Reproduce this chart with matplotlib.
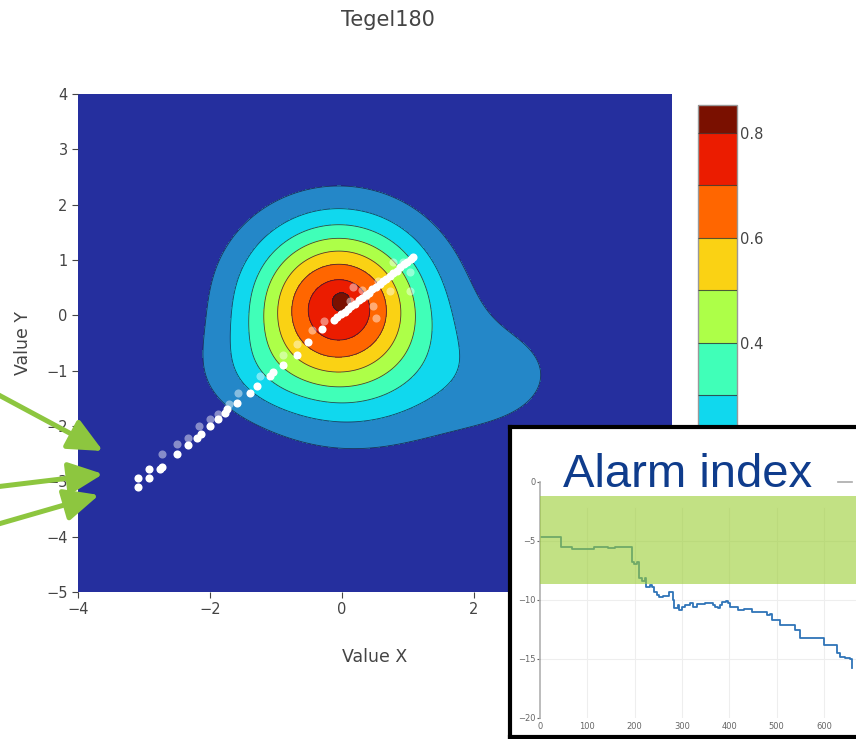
import numpy as np
import matplotlib
matplotlib.use('Agg')
import matplotlib.pyplot as plt
from matplotlib.colors import ListedColormap, BoundaryNorm
from matplotlib.patches import FancyArrowPatch

# density bumps for the contour surface: centre, spread, height
bump_cx = [-0.05, 0.4, 2.4, -1.4, 0.0, 0.0]
bump_cy = [0.15, -1.6, -1.05, -1.05, 0.28, 0.5]
bump_sx = [0.95, 1.3, 0.95, 0.7, 0.1, 1.5]
bump_sy = [1.07, 0.85, 0.85, 0.6, 0.12, 1.2]
bump_amp = [0.77, 0.09, 0.11, 0.07, 0.08, 0.025]
peak_density = 0.853

levels = [0.0, 0.1, 0.2, 0.3, 0.4, 0.5, 0.6, 0.7, 0.8, peak_density]
level_colors = ['#252f9e', '#2487c8', '#10d8ee', '#40ffb8', '#adff48',
                '#fad214', '#ff6600', '#eb1c00', '#7a1000']

# measured points
pts_x = [-3.09, -3.09, -2.93, -2.93, -2.76, -2.72, -2.50, -2.34, -2.19, -2.14,
         -2.00, -1.88, -1.78, -1.74, -1.59, -1.39, -1.29, -1.09, -1.04, -0.89,
         -0.68, -0.51, -0.31, -0.12, -0.07, -0.02, 0.04, 0.09, 0.14, 0.20,
         0.25, 0.30, 0.36, 0.41, 0.46, 0.52, 0.57, 0.62, 0.67, 0.73,
         0.78, 0.83, 0.88, 0.94, 0.99, 1.04, 1.08]
pts_y = [-3.10, -2.94, -2.94, -2.78, -2.77, -2.74, -2.50, -2.35, -2.21, -2.15,
         -2.00, -1.88, -1.76, -1.70, -1.58, -1.40, -1.28, -1.09, -1.03, -0.89,
         -0.71, -0.49, -0.25, -0.08, -0.03, 0.02, 0.06, 0.12, 0.16, 0.21,
         0.27, 0.31, 0.36, 0.41, 0.47, 0.51, 0.56, 0.62, 0.66, 0.71,
         0.77, 0.81, 0.87, 0.92, 0.97, 1.01, 1.06]
faint_x = [-2.73, -2.50, -2.34, -2.16, -2.00, -1.88, -1.71, -1.57, -1.25, -0.89,
           -0.68, -0.46, -0.28, 0.12, 0.17, 0.30, 0.37, 0.47, 0.52, 0.55,
           0.72, 0.77, 0.93, 1.03, 1.03]
faint_y = [-2.50, -2.33, -2.21, -2.00, -1.88, -1.78, -1.60, -1.40, -1.09, -0.71,
           -0.52, -0.27, -0.10, 0.26, 0.51, 0.45, 0.35, 0.17, -0.04, 0.62,
           0.44, 0.96, 0.96, 0.44, 0.78]

# alarm index trace (step values)
alarm_x = [0, 44, 68, 115, 143, 159, 194, 199, 206, 210,
           216, 221, 224, 233, 237, 240, 247, 252, 259, 273,
           280, 284, 291, 294, 301, 306, 317, 323, 331, 349,
           366, 370, 377, 380, 384, 394, 398, 401, 416, 419,
           430, 447, 479, 486, 490, 507, 539, 549, 599, 627,
           634, 645, 655, 659]
alarm_y = [-4.66, -5.51, -5.73, -5.51, -5.65, -5.51, -6.78, -6.97, -6.78, -8.19,
           -8.39, -8.19, -8.90, -8.75, -8.90, -9.32, -9.60, -9.74, -9.69, -9.32,
           -10.03, -10.73, -10.45, -10.87, -10.60, -10.45, -10.31, -10.59, -10.39, -10.31,
           -10.45, -10.59, -10.73, -10.45, -10.17, -10.08, -10.31, -10.59, -10.65, -10.87,
           -10.82, -11.01, -11.30, -11.21, -11.72, -12.14, -12.57, -13.27, -13.84, -14.55,
           -14.83, -14.97, -15.05, -15.82]
alarm_band = (-8.65, -1.2)

W, H = 856, 739
fig = plt.figure(figsize=(W / 100, H / 100), dpi=100)
plt.rcParams['font.family'] = 'DejaVu Sans'

def px(x0, y0, x1, y1):
    # image pixel box -> figure fraction rect
    return [x0 / W, 1 - y1 / H, (x1 - x0) / W, (y1 - y0) / H]

ax = fig.add_axes(px(78, 94, 672, 592))
gx = np.linspace(-4, 5, 451)
gy = np.linspace(-5, 4, 451)
X, Y = np.meshgrid(gx, gy)
Z = np.zeros_like(X)
for cx, cy, sx, sy, a in zip(bump_cx, bump_cy, bump_sx, bump_sy, bump_amp):
    Z += a * np.exp(-0.5 * (((X - cx) / sx) ** 2 + ((Y - cy) / sy) ** 2))
Z *= peak_density / Z.max()

cmap = ListedColormap(level_colors)
norm = BoundaryNorm(levels, cmap.N)
cs = ax.contourf(X, Y, Z, levels=levels, cmap=cmap, norm=norm)
ax.contour(X, Y, Z, levels=levels[1:-1], colors='#1a1a3a', linewidths=0.6, alpha=0.8)

ax.scatter(faint_x, faint_y, s=34, color='white', alpha=0.45, linewidths=0, zorder=3)
ax.scatter(pts_x, pts_y, s=34, color='white', linewidths=0, zorder=4)

ax.set_xlim(-4, 5)
ax.set_ylim(-5, 4)
ax.set_xticks([-4, -2, 0, 2, 4])
ax.set_yticks(range(-5, 5))
ax.tick_params(colors='#444444', labelsize=10.5, length=4, width=0.8, direction='out')
for s in ax.spines.values():
    s.set_visible(False)
ax.set_xlabel('Value X', fontsize=12.5, color='#444444', labelpad=22)
ax.set_ylabel('Value Y', fontsize=12.5, color='#444444', labelpad=10)
fig.text(388 / W, 1 - 20 / H, 'Tegel180', ha='center', va='center', fontsize=15, color='#444444')

cax = fig.add_axes(px(698, 105, 737, 553))
cb = fig.colorbar(cs, cax=cax, spacing='proportional', ticks=[0.4, 0.6, 0.8])
cb.ax.minorticks_off()
cb.ax.tick_params(length=0, pad=2, labelsize=10.5, colors='#444444')
cb.outline.set_edgecolor('#999999')
cb.outline.set_linewidth(1)
cax.hlines(levels[1:-1], 0, 1, colors='#333333', linewidths=0.8, alpha=0.8,
           transform=cax.get_yaxis_transform(), zorder=5)

# green pointers on the left
arrow_start = [(-5, 393), (-5, 487), (-5, 525)]
arrow_tip = [(103, 451), (103, 474), (99, 495)]
for (x0, y0), (x1, y1) in zip(arrow_start, arrow_tip):
    fig.add_artist(FancyArrowPatch((x0 / W, 1 - y0 / H), (x1 / W, 1 - y1 / H),
                                   transform=fig.transFigure,
                                   arrowstyle='-|>,head_length=1.5,head_width=0.7',
                                   mutation_scale=14, lw=3.6, color='#8dc63f',
                                   shrinkA=0, shrinkB=0))

# inset panel
box = fig.add_axes(px(510, 427, 880, 737))
box.set_xticks([])
box.set_yticks([])
box.set_facecolor('white')
for s in box.spines.values():
    s.set_linewidth(3)
    s.set_edgecolor('black')

iax = fig.add_axes(px(540, 481.7, W, 717.7))
iax.set_facecolor('none')
iax.set_xlim(0, (W - 540) / 0.4733)
iax.set_ylim(-20, 0)
for gxv in range(100, 700, 100):
    iax.plot([gxv, gxv], [-20, -2.26], color='#eeeeee', lw=0.8, zorder=0)
for gyv in [-5, -10, -15]:
    iax.axhline(gyv, color='#eeeeee', lw=0.8, zorder=0)
iax.plot(alarm_x, alarm_y, drawstyle='steps-post', color='#2f74b8', lw=1.3, zorder=2)
iax.axhspan(alarm_band[0], alarm_band[1], color='#9acd32', alpha=0.6, lw=0, zorder=3)
iax.set_xticks(range(0, 700, 100))
iax.set_yticks([0, -5, -10, -15, -20])
iax.tick_params(labelsize=6, colors='#666666', length=2, pad=1)
iax.tick_params(axis='x', length=0, pad=3)
for side in ['top', 'right', 'bottom']:
    iax.spines[side].set_visible(False)
iax.spines['left'].set_color('#b0b0b0')
iax.spines['left'].set_linewidth(1.2)

fig.text(688 / W, 1 - 487 / H, 'Alarm index', ha='center', va='baseline',
         fontsize=34, color='#0f3c8c', family='Liberation Sans')
fig.add_artist(plt.Line2D([838 / W, 852 / W], [1 - 482 / H, 1 - 482 / H],
                          transform=fig.transFigure, color='#aaaaaa', lw=1.2))

fig.savefig('out.png', dpi=100)
